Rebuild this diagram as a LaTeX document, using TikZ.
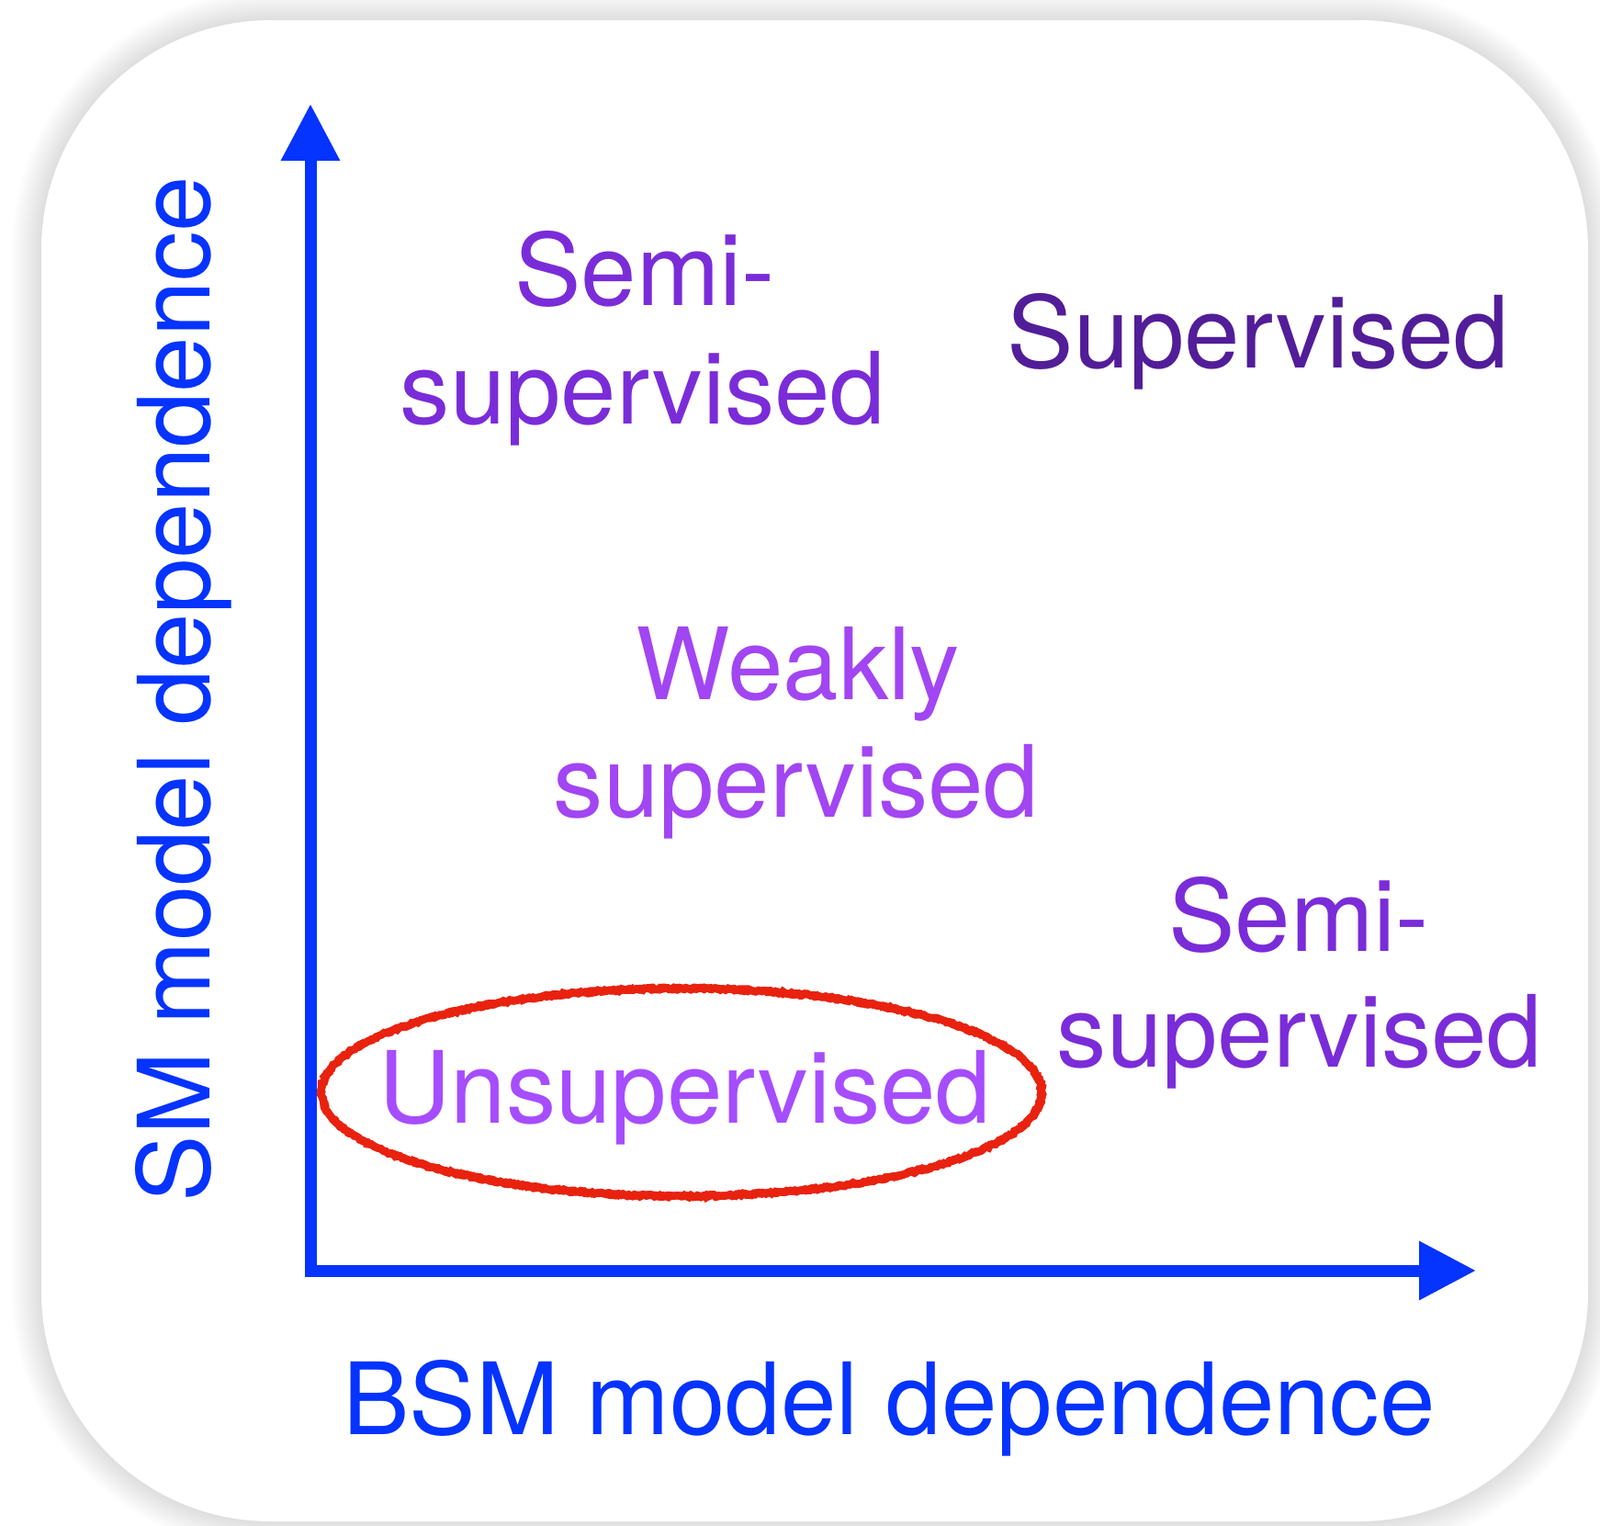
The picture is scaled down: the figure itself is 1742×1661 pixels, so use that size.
\documentclass[tikz,border=0pt]{standalone}
\usepackage{fontspec}
\setmainfont{TeX Gyre Heros}
\usetikzlibrary{arrows.meta,shapes.geometric,decorations.pathmorphing}
\definecolor{axisblue}{HTML}{0533FF}
\definecolor{semipurple}{HTML}{7A2CD8}
\definecolor{suppurple}{HTML}{521D98}
\definecolor{weakpurple}{HTML}{A245F2}
\definecolor{unsuppurple}{HTML}{A64DFF}
\definecolor{ringred}{HTML}{E8220F}
\tikzset{
  lbl/.style={font=\fontsize{108.6pt}{130pt}\selectfont, inner sep=0pt, anchor=base},
  axislbl/.style={lbl, text=axisblue},
  axisline/.style={draw=axisblue, line width=13pt, line join=miter,
    {Triangle[length=62pt,width=61pt]}-{Triangle[length=62pt,width=61pt]}},
  ringstroke/.style={ringred, decorate,
    decoration={random steps, segment length=3pt, amplitude=1.3pt}},
}
\begin{document}
\begin{tikzpicture}[x=1pt,y=-1pt]
\useasboundingbox (0,0) rectangle (1742,1661);
% soft shadow
\foreach \i in {1,...,16}
  \draw[black, opacity=0.007, line width=4*\i pt, rounded corners=250pt]
    (45,22) rectangle (1729,1656);
\fill[white, rounded corners=250pt] (45,22) rectangle (1729,1656);

% axes
\coordinate (ytip) at (338,113);
\coordinate (O) at (338,1383);
\coordinate (xtip) at (1607,1383);
\draw[axisline] (ytip) -- (O) -- (xtip);

% axis labels
\node[axislbl, rotate=90] (ylab) at (228,750) {SM model dependence};
\node[axislbl] (xlab) at (968,1561) {BSM model dependence};

% region labels
\node[lbl, text=semipurple] (semiA1) at (702,333) {Semi-};
\node[lbl, text=semipurple] (semiA2) at (700,461) {supervised};
\node[lbl, text=suppurple] (sup) at (1370,400) {Supervised};
\node[lbl, text=weakpurple] (weak1) at (869,761) {Weakly};
\node[lbl, text=weakpurple] (weak2) at (867,889) {supervised};
\node[lbl, text=semipurple] (semiB1) at (1414,1035) {Semi-};
\node[lbl, text=semipurple] (semiB2) at (1415,1161) {supervised};
\node[lbl, text=unsuppurple] (unsup) at (746,1222) {Unsupervised};

% red hand-drawn ring
\coordinate (ringc) at (742,1189);
\draw[ringstroke, line width=8.5pt]
  (ringc) ellipse [x radius=392, y radius=113];
\draw[ringstroke, line width=3pt]
  (ringc) ellipse [x radius=395, y radius=116];
\draw[ringstroke, line width=3pt]
  (ringc) ellipse [x radius=389, y radius=110];
\end{tikzpicture}
\end{document}
